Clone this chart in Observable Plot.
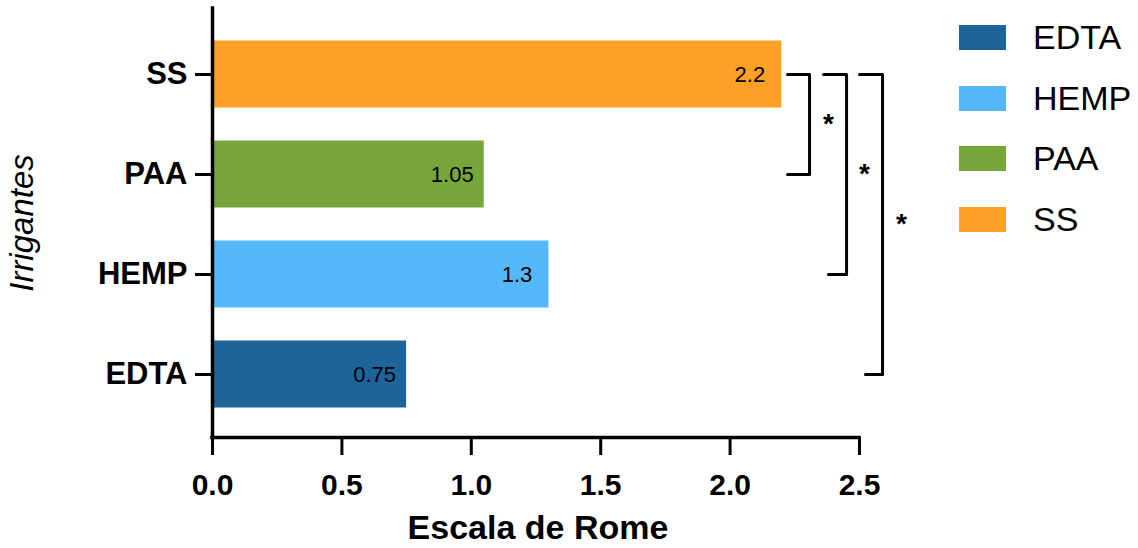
<!DOCTYPE html>
<html>
<head>
<meta charset="utf-8">
<script src="https://cdn.jsdelivr.net/npm/d3@7"></script>
<script src="https://cdn.jsdelivr.net/npm/@observablehq/plot@0.6"></script>
<style>
  html, body { margin: 0; padding: 0; background: white; }
  #wrap { position: relative; width: 1138px; height: 548px; font-family: "Liberation Sans", Arial, sans-serif; }
  #legend { position: absolute; left: 959px; top: 25px; }
  .row { display: flex; align-items: center; height: 25px; margin-bottom: 35.7px; }
  .sw { width: 47px; height: 25px; }
  .lab { margin-left: 27px; font-size: 34px; color: #000; line-height: 25px; }
</style>
</head>
<body>
<div id="wrap"><div id="chart"></div><div id="legend"></div></div>
<script>
// Data
const irrigantes = ["EDTA", "HEMP", "PAA", "SS"];
const romeScale = [0.75, 1.3, 1.05, 2.2];
const colors = ["#1d649b", "#55b8fb", "#76a63a", "#fda126"];
const xTicks = [0, 0.5, 1.0, 1.5, 2.0, 2.5];
const xLabel = "Escala de Rome";
const yLabel = "Irrigantes";
// significance brackets: compared groups, bracket x levels (value units)
const bracketFrom = ["SS", "SS", "SS"];
const bracketTo = ["PAA", "HEMP", "EDTA"];
const bracketTopStart = [2.222, 2.361, 2.500];
const bracketBottomStart = [2.222, 2.380, 2.523];
const bracketVertical = [2.307, 2.450, 2.589];
const bracketStarX = [2.380, 2.519, 2.662];
const bracketText = ["*", "*", "*"];

const idx = name => irrigantes.indexOf(name);
const bars = irrigantes.map((name, i) => ({name, i, value: romeScale[i]}));

const bracketPts = [];
bracketFrom.forEach((f, k) => {
  const t = bracketTo[k];
  bracketPts.push({k, x: bracketTopStart[k], y: idx(f)});
  bracketPts.push({k, x: bracketVertical[k], y: idx(f)});
  bracketPts.push({k, x: bracketVertical[k], y: idx(t)});
  bracketPts.push({k, x: bracketBottomStart[k], y: idx(t)});
});
const stars = bracketFrom.map((f, k) => ({x: bracketStarX[k], y: (idx(f) + idx(bracketTo[k])) / 2, t: bracketText[k]}));

const chart = Plot.plot({
  width: 1138,
  height: 548,
  marginLeft: 212,
  marginRight: 279,
  marginTop: 8,
  marginBottom: 111,
  x: {domain: [0, 2.5], axis: null},
  y: {domain: [-0.63, 3.66], axis: null},
  color: {domain: irrigantes, range: colors},
  style: {fontFamily: "'Liberation Sans', Arial, sans-serif", color: "black", background: "white", overflow: "visible"},
  marks: [
    Plot.rect(bars, {x1: 0, x2: "value", y1: d => d.i - 0.335, y2: d => d.i + 0.335, fill: "name"}),
    Plot.text(bars, {x: "value", y: "i", text: d => String(d.value), dx: -32, fontSize: 22, fill: "black"}),
    Plot.axisX({ticks: xTicks, tickFormat: d3.format(".1f"), tickSize: 18, tickPadding: 18, fontSize: 30, fontWeight: "bold", strokeWidth: 3, label: null}),
    Plot.axisY({ticks: [0, 1, 2, 3], tickFormat: i => irrigantes[i], tickSize: 17, tickPadding: 8, fontSize: 31, fontWeight: "bold", strokeWidth: 3, label: null}),
    Plot.ruleX([0], {strokeWidth: 3.5, strokeLinecap: "square"}),
    Plot.ruleY([-0.63], {strokeWidth: 3.5, strokeLinecap: "square"}),
    Plot.line(bracketPts, {x: "x", y: "y", z: "k", stroke: "black", strokeWidth: 3, curve: "linear"}),
    Plot.text(stars, {x: "x", y: "y", text: "t", fontSize: 28, fontWeight: "bold", fill: "black"}),
    Plot.text([xLabel], {frameAnchor: "bottom", text: d => d, lineAnchor: "bottom", dy: 101, dx: 2, fontSize: 34, fontWeight: "bold", fill: "black"}),
    Plot.text([yLabel], {frameAnchor: "left", textAnchor: "middle", text: d => d, rotate: -90, dx: -190, fontSize: 33, fontStyle: "italic", fill: "black"})
  ]
});
document.getElementById("chart").appendChild(chart);

const legend = document.getElementById("legend");
irrigantes.forEach((name, i) => {
  const row = document.createElement("div");
  row.className = "row";
  const sw = document.createElement("div");
  sw.className = "sw";
  sw.style.background = colors[i];
  const lab = document.createElement("div");
  lab.className = "lab";
  lab.textContent = name;
  row.appendChild(sw);
  row.appendChild(lab);
  legend.appendChild(row);
});
</script>
</body>
</html>
